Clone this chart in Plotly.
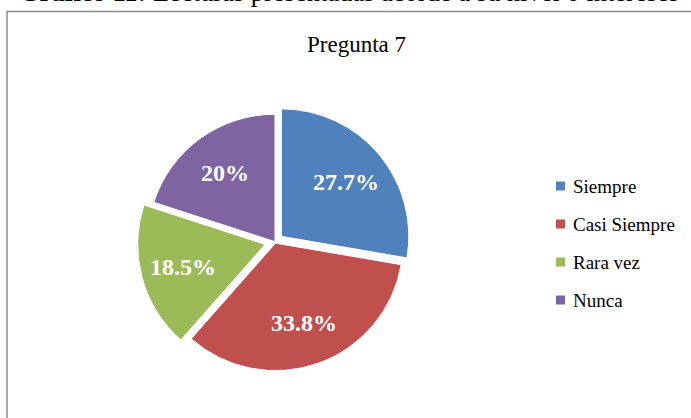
import math
import plotly.graph_objects as go

W, H = 691, 418

labels = ["Siempre", "Casi Siempre", "Rara vez", "Nunca"]
values = [27.7, 33.8, 18.5, 20.0]
text_labels = ["27.7%", "33.8%", "18.5%", "20%"]
colors = ["#4F81BD", "#C0504D", "#9BBB59", "#8064A2"]
pulls = [0.065, 0.012, 0.08, 0.0]

chart_title = "Pregunta 7"
fig_caption = "<b>Gráfico 11:</b> Lecturas presentadas acorde a su nivel o intereses"

FONT = "Liberation Serif, Times New Roman, serif"

def px(x):
    return x / W

def py(y):
    return 1 - y / H

# pie placement (pixels)
CX, CY = 275.0, 241.7
R = 127.5
max_pull = max(pulls)
half_box = R * (1 + max_pull)

fig = go.Figure()
fig.add_trace(go.Pie(
    labels=labels,
    values=values,
    textinfo="none",
    marker=dict(colors=colors, line=dict(color="white", width=1)),
    pull=pulls,
    sort=False,
    direction="clockwise",
    rotation=0,
    domain=dict(x=[px(CX - half_box), px(CX + half_box)],
                y=[py(CY + half_box), py(CY - half_box)]),
    showlegend=False,
    hoverinfo="label+percent",
))

shapes = []
annotations = []

# slice labels placed along each slice's mid-angle (derived from values)
total = sum(values)
cum = 0.0
for v, t, p in zip(values, text_labels, pulls):
    theta = 2 * math.pi * (cum + v / 2) / total
    cum += v
    d = (0.667 + p) * R
    lx = CX + d * math.sin(theta)
    ly = CY - d * math.cos(theta)
    annotations.append(dict(text=f"<b>{t}</b>", x=px(lx), y=py(ly), xref="paper", yref="paper",
                            xanchor="center", yanchor="middle", showarrow=False,
                            font=dict(family=FONT, size=24, color="white")))

# outer frame
shapes.append(dict(type="rect", xref="paper", yref="paper",
                   x0=px(7), x1=px(700), y0=py(430), y1=py(11.5),
                   line=dict(color="#8A8A8A", width=1.5), fillcolor="rgba(0,0,0,0)"))

# caption (partially cut at top, as in the source)
annotations.append(dict(text=fig_caption, x=px(349), y=py(9.5), xref="paper", yref="paper",
                        xanchor="center", yanchor="bottom", showarrow=False,
                        font=dict(family=FONT, size=26.5, color="black")))
# chart title
annotations.append(dict(text=chart_title, x=px(356), y=py(45), xref="paper", yref="paper",
                        xanchor="center", yanchor="middle", showarrow=False,
                        font=dict(family=FONT, size=23, color="black")))

# legend
leg_y = [186, 224, 262, 300]
for lab, col, yy in zip(labels, colors, leg_y):
    shapes.append(dict(type="rect", xref="paper", yref="paper",
                       x0=px(556), x1=px(565), y0=py(yy + 4.5), y1=py(yy - 4.5),
                       line=dict(width=0), fillcolor=col))
    annotations.append(dict(text=lab, x=px(571), y=py(yy), xref="paper", yref="paper",
                            xanchor="left", yanchor="middle", showarrow=False,
                            font=dict(family=FONT, size=19, color="black")))

fig.update_layout(
    width=W, height=H,
    margin=dict(l=0, r=0, t=0, b=0),
    paper_bgcolor="white",
    plot_bgcolor="white",
    shapes=shapes,
    annotations=annotations,
    showlegend=False,
)

fig.write_html("out.html", config={"displayModeBar": False},
               post_script="document.body.style.margin='0';document.body.style.overflow='hidden';")
